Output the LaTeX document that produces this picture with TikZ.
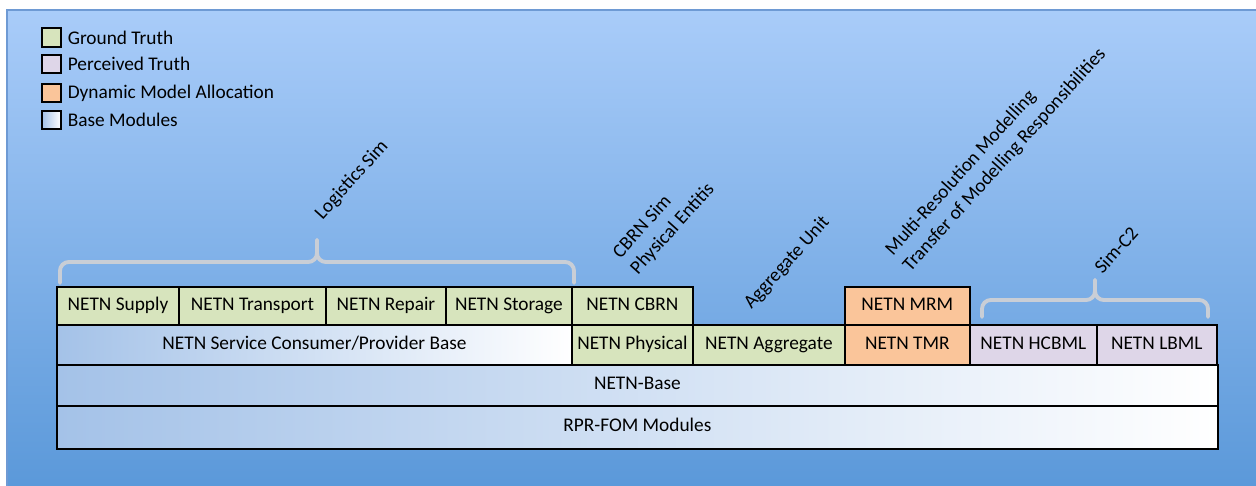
\documentclass[tikz,border=0pt]{standalone}
\usepackage{fontspec}
\setmainfont{Carlito}
\usepackage{tikz}
\usetikzlibrary{positioning}
\definecolor{gtgreen}{HTML}{D7E4BD}
\definecolor{ptpurple}{HTML}{DED6E8}
\definecolor{dmaorange}{HTML}{FAC59A}
\definecolor{baseblue}{HTML}{A4C2E8}
\definecolor{bgtop}{HTML}{A9CCF9}
\definecolor{bgbot}{HTML}{5A98D9}
\definecolor{bgedge}{HTML}{6E9AD4}
\definecolor{bracegray}{HTML}{C9CED6}
\tikzset{
  modbox/.style={draw=black,line width=1pt,inner sep=0pt,outer sep=0pt,
    text height=0.7em,text depth=0.2em,font=\fontsize{11}{13}\selectfont},
  gtbox/.style={modbox,fill=gtgreen},
  ptbox/.style={modbox,fill=ptpurple},
  dmabox/.style={modbox,fill=dmaorange},
  basebox/.style={modbox,left color=baseblue,right color=white},
  keybox/.style={draw=black,line width=1pt,minimum size=0.37cm,inner sep=0pt},
  keytext/.style={font=\fontsize{11}{13}\selectfont},
  bracket/.style={draw=bracegray,line width=2.2pt,rounded corners=5pt,line cap=round},
  slanted/.style={rotate=48,align=left,font=\fontsize{11}{13.5}\selectfont}
}

\begin{document}
\begin{tikzpicture}[x=0.02cm,y=-0.02cm]
    \useasboundingbox (0,0) rectangle (1256,486);
    \clip (0,0) rectangle (1256,486);
    \fill[white] (0,0) rectangle (1256,486);
    \shade[top color=bgtop,bottom color=bgbot,draw=bgedge,line width=0.6pt] (7,10) rectangle (1262,492);
    % legend
    \node[keybox,fill=gtgreen] (kgt) at (51.5,37.5) {};
    \node[keytext,right=0pt of kgt] {Ground Truth};
    \node[keybox,fill=ptpurple] (kpt) at (51.5,64) {};
    \node[keytext,right=0pt of kpt] {Perceived Truth};
    \node[keybox,fill=dmaorange] (kdma) at (51.5,93) {};
    \node[keytext,right=0pt of kdma] {Dynamic Model Allocation};
    \node[keybox,left color=baseblue,right color=white] (kbase) at (51.5,120) {};
    \node[keytext,right=0pt of kbase] {Base Modules};
    % second row
    \node[basebox,minimum width=10.30cm,minimum height=0.80cm,anchor=north west] (scpb) at (57,325) {NETN Service Consumer/Provider Base};
    \node[gtbox,minimum width=2.42cm,minimum height=0.80cm,right=0pt of scpb] (phys) {NETN Physical};
    \node[gtbox,minimum width=3.04cm,minimum height=0.80cm,right=0pt of phys] (aggr) {NETN Aggregate};
    \node[dmabox,minimum width=2.50cm,minimum height=0.80cm,right=0pt of aggr] (tmr) {NETN TMR};
    \node[ptbox,minimum width=2.54cm,minimum height=0.80cm,right=0pt of tmr] (hcbml) {NETN HCBML};
    \node[ptbox,minimum width=2.40cm,minimum height=0.80cm,right=0pt of hcbml] (lbml) {NETN LBML};
    % top row
    \node[gtbox,minimum width=2.44cm,minimum height=0.76cm,anchor=south west] (sup) at (scpb.north west) {NETN Supply};
    \node[gtbox,minimum width=2.94cm,minimum height=0.76cm,right=0pt of sup] (trans) {NETN Transport};
    \node[gtbox,minimum width=2.40cm,minimum height=0.76cm,right=0pt of trans] (rep) {NETN Repair};
    \node[gtbox,minimum width=2.52cm,minimum height=0.76cm,right=0pt of rep] (stor) {NETN Storage};
    \node[gtbox,minimum width=2.42cm,minimum height=0.76cm,above=0pt of phys] (cbrn) {NETN CBRN};
    \node[dmabox,minimum width=2.50cm,minimum height=0.76cm,above=0pt of tmr] (mrm) {NETN MRM};
    % base rows
    \node[basebox,minimum width=23.22cm,minimum height=0.82cm,anchor=north west] (base) at (scpb.south west) {NETN-Base};
    \node[basebox,minimum width=23.22cm,minimum height=0.86cm,anchor=north west] (rpr) at (base.south west) {RPR-FOM Modules};
    % braces
    \draw[bracket] (60,283) -- (60,262) -- (317,262) -- (317,240);
    \draw[bracket] (574,283) -- (574,262) -- (317,262) -- (317,240);
    \draw[bracket] (982,317) -- (982,300) -- (1095,300) -- (1095,280);
    \draw[bracket] (1208,317) -- (1208,300) -- (1095,300) -- (1095,280);
    % slanted labels
    \node[slanted] (logl) at (352,180) {Logistics Sim};
    \node[slanted] (cbrnl) at (664,221) {CBRN Sim\\Physical Entitis};
    \node[slanted] (aggrl) at (787,263) {Aggregate Unit};
    \node[slanted] (mrml) at (996,152) {Multi-Resolution Modelling\\Transfer of Modelling Responsibilities};
    \node[slanted] (c2l) at (1116,250) {Sim-C2};
\end{tikzpicture}
\end{document}
